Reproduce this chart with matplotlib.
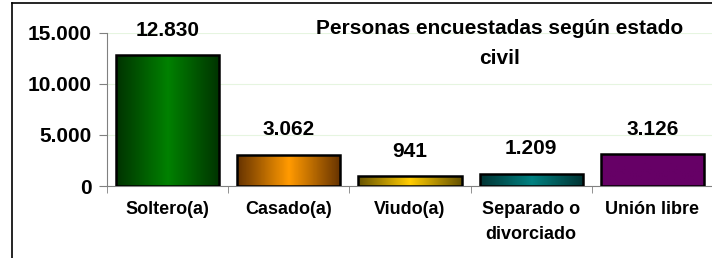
import numpy as np
import matplotlib.pyplot as plt
from matplotlib.colors import LinearSegmentedColormap
from matplotlib.lines import Line2D
from matplotlib.ticker import FuncFormatter

categorias = ['Soltero(a)', 'Casado(a)', 'Viudo(a)', 'Separado o\ndivorciado', 'Unión libre']
personas = [12830, 3062, 941, 1209, 3126]
etiquetas = ['12.830', '3.062', '941', '1.209', '3.126']
# (borde, centro) del degradado de cada barra
colores = [('#003300', '#008000'), ('#663300', '#ff9900'), ('#665200', '#ffcc00'),
           ('#003333', '#008080'), ('#660066', '#660066')]

plt.rcParams['font.family'] = ['Liberation Sans', 'DejaVu Sans']
plt.rcParams['font.weight'] = 'bold'

fig = plt.figure(figsize=(7.12, 2.58), dpi=100)
ax = fig.add_axes([107 / 712, 1 - 186 / 258, 606 / 712, (186 - 33) / 258])

x = np.arange(len(categorias))
bars = ax.bar(x, personas, width=0.85, facecolor='none', edgecolor='black',
              linewidth=1.8, zorder=4)

grad = np.concatenate([np.linspace(0, 1, 50), np.linspace(1, 0, 50)])[None, :]
for b, (borde, centro) in zip(bars, colores):
    cmap = LinearSegmentedColormap.from_list('g', [borde, centro])
    im = ax.imshow(grad, cmap=cmap, aspect='auto', zorder=3,
                   extent=[b.get_x(), b.get_x() + b.get_width(), 0, b.get_height()])
    im.set_clip_path(b)

for xi, v, t in zip(x, personas, etiquetas):
    ax.annotate(t, (xi, v), xytext=(0, 11), textcoords='offset points',
                ha='center', va='bottom', fontsize=15, fontweight='bold')

ax.set_xlim(-0.5, len(categorias) - 0.5)
ax.set_ylim(0, 15000)
ax.set_yticks([0, 5000, 10000, 15000])
ax.yaxis.set_major_formatter(FuncFormatter(lambda y, _: '{:,.0f}'.format(y).replace(',', '.')))
ax.set_xticks(x)
ax.set_xticklabels(categorias, fontsize=13, fontweight='bold', va='top', linespacing=1.6)
ax.set_xticks(np.arange(len(categorias) + 1) - 0.5, minor=True)
ax.tick_params(axis='x', which='major', length=0, pad=11)
ax.tick_params(axis='x', which='minor', length=5, color='#808080', direction='out')
ax.tick_params(axis='y', length=6, color='#808080', direction='out', pad=5, labelsize=15)

ax.yaxis.grid(True, color='#e6f5e0', linewidth=0.8, zorder=0)
ax.set_axisbelow(True)
ax.spines['top'].set_visible(False)
ax.spines['right'].set_visible(False)
ax.spines['left'].set_color('#808080')
ax.spines['bottom'].set_color('#808080')

ax.text(0.648, 0.93, 'Personas encuestadas según estado\ncivil', transform=ax.transAxes,
        ha='center', va='center', multialignment='center', fontsize=15,
        fontweight='bold', linespacing=1.7)

# marco del gráfico
fig.add_artist(Line2D([12 / 712, 1], [1 - 3 / 258, 1 - 3 / 258], color='black', linewidth=1.2))
fig.add_artist(Line2D([12 / 712, 12 / 712], [0, 1 - 3 / 258], color='black', linewidth=1.2))

fig.savefig('out.png', dpi=100)
